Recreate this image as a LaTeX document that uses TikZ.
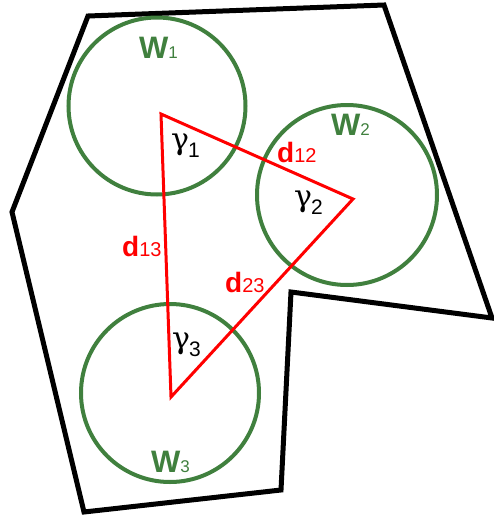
\documentclass[tikz,border=0pt]{standalone}
\usepackage{fontspec}
\setmainfont{Liberation Sans}
\newfontfamily\gfont{DejaVu Serif}
\definecolor{wgreen}{RGB}{64,128,62}
\definecolor{dred}{RGB}{255,0,0}
\newcommand{\wtxt}[1]{\fontsize{31}{31}\selectfont\bfseries W\fontsize{17}{17}\selectfont\mdseries #1}
\newcommand{\dtxt}[1]{\fontsize{28}{28}\selectfont\bfseries d\fontsize{20}{20}\selectfont\mdseries #1}
\newcommand{\gtxt}[1]{{\fontsize{30}{30}\selectfont\gfont γ}\kern-1pt\raisebox{-8pt}{\fontsize{21}{21}\selectfont #1}}
\begin{document}
\begin{tikzpicture}[x=1pt,y=-1pt,
  region/.style={line width=5pt, line join=miter},
  wcircle/.style={circle, draw=wgreen, line width=4pt, inner sep=0pt},
  tri/.style={draw=dred, line width=3pt, line join=miter},
  wlab/.style={anchor=base west, inner sep=0pt, text=wgreen},
  dlab/.style={anchor=base west, inner sep=0pt, text=dred},
  glab/.style={anchor=base west, inner sep=0pt, text=black}]
\useasboundingbox (0,0) rectangle (494,520);
% region outline
\coordinate (p1) at (88,16);
\coordinate (p2) at (384,5);
\coordinate (p3) at (492,318);
\coordinate (p4) at (291,292);
\coordinate (p5) at (281,490);
\coordinate (p6) at (84,512);
\coordinate (p7) at (12,212);
\draw[region] (p1) -- (p2) -- (p3) -- (p4) -- (p5) -- (p6) -- (p7) -- cycle;
% circles
\node[wcircle, minimum size=177pt] (c1) at (157,106) {};
\node[wcircle, minimum size=180pt] (c2) at (347,195) {};
\node[wcircle, minimum size=178pt] (c3) at (170,393) {};
% triangle
\coordinate (v1) at (161,114);
\coordinate (v2) at (353,199);
\coordinate (v3) at (171,397);
\draw[tri] (v1) -- (v2) -- (v3) -- cycle;
% labels
\node[wlab] (w1) at (139,58) {\wtxt{1}};
\node[wlab] (w2) at (331,135) {\wtxt{2}};
\node[wlab] (w3) at (151,472) {\wtxt{3}};
\node[dlab] (d12) at (277,162) {\dtxt{12}};
\node[dlab] (d13) at (122,256) {\dtxt{13}};
\node[dlab] (d23) at (225,292) {\dtxt{23}};
\node[glab] (g1) at (171,149) {\gtxt{1}};
\node[glab] (g2) at (294,206) {\gtxt{2}};
\node[glab] (g3) at (172,348) {\gtxt{3}};
\end{tikzpicture}
\end{document}
